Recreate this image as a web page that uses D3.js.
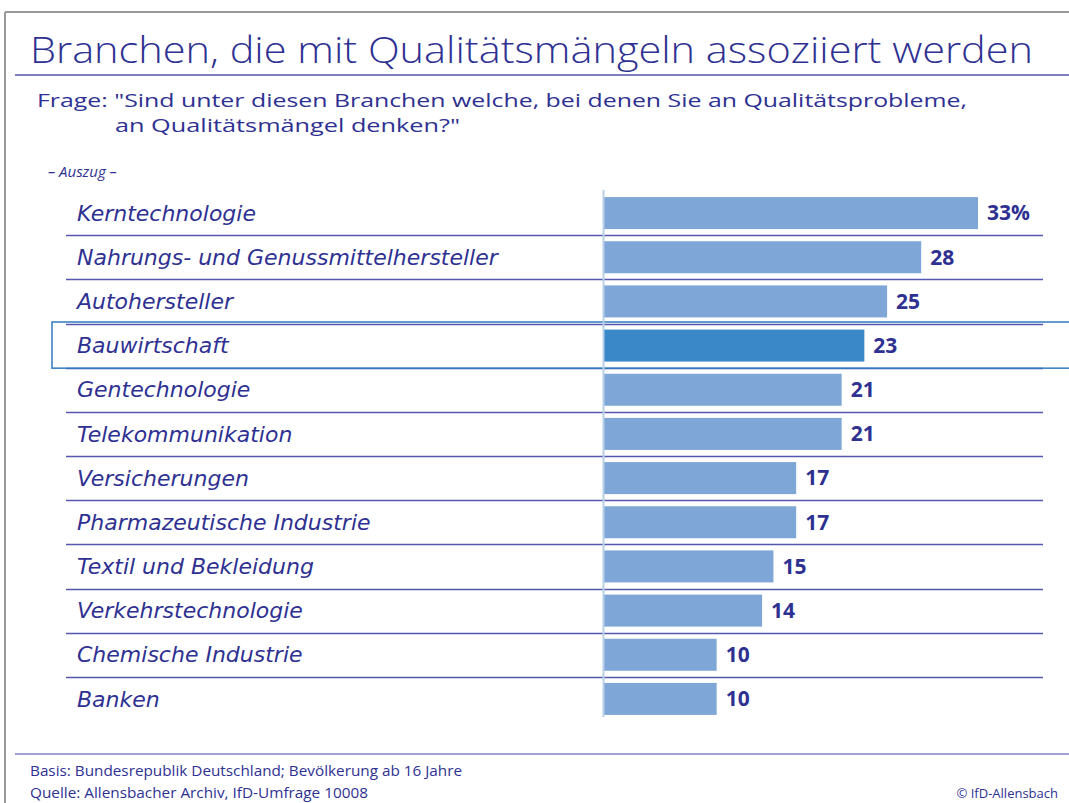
<!DOCTYPE html>
<html>
<head>
<meta charset="utf-8">
<script src="https://cdn.jsdelivr.net/npm/d3@7"></script>
<style>
  body { margin: 0; background: #fff; }
  text { font-family: "Open Sans", "DejaVu Sans", sans-serif; }
</style>
</head>
<body>
<script>
var width = 1069;
var height = 803;
var navy = "#2e3192";

var categories = [
  "Kerntechnologie",
  "Nahrungs- und Genussmittelhersteller",
  "Autohersteller",
  "Bauwirtschaft",
  "Gentechnologie",
  "Telekommunikation",
  "Versicherungen",
  "Pharmazeutische Industrie",
  "Textil und Bekleidung",
  "Verkehrstechnologie",
  "Chemische Industrie",
  "Banken"
];
var values = [33, 28, 25, 23, 21, 21, 17, 17, 15, 14, 10, 10];
var highlighted = "Bauwirtschaft";

var svg = d3.select("body")
            .append("svg")
            .attr("width", width)
            .attr("height", height);

// frame
svg.append("line").attr("x1", 5).attr("x2", width).attr("y1", 12).attr("y2", 12)
  .attr("stroke", "#999").attr("stroke-width", 2);
svg.append("line").attr("x1", 5).attr("x2", 5).attr("y1", 12).attr("y2", height)
  .attr("stroke", "#999").attr("stroke-width", 2);

// title
svg.append("text")
  .attr("x", 30).attr("y", 63)
  .attr("font-size", 37).attr("font-weight", 300)
  .attr("fill", navy)
  .attr("textLength", 1003).attr("lengthAdjust", "spacingAndGlyphs")
  .text("Branchen, die mit Qualitätsmängeln assoziiert werden");
svg.append("line").attr("x1", 15).attr("x2", width).attr("y1", 75).attr("y2", 75)
  .attr("stroke", "#7f7fc0").attr("stroke-width", 2);

svg.append("text")
  .attr("x", 37).attr("y", 107)
  .attr("font-size", 19).attr("fill", navy)
  .attr("textLength", 930).attr("lengthAdjust", "spacingAndGlyphs")
  .text("Frage: \"Sind unter diesen Branchen welche, bei denen Sie an Qualitätsprobleme,");
svg.append("text")
  .attr("x", 115).attr("y", 132)
  .attr("font-size", 19).attr("fill", navy)
  .attr("textLength", 345).attr("lengthAdjust", "spacingAndGlyphs")
  .text("an Qualitätsmängel denken?\"");

svg.append("text")
  .attr("x", 48).attr("y", 177)
  .attr("font-size", 15).attr("font-style", "italic").attr("fill", navy)
  .text("– Auszug –");

// scales
var y = d3.scaleBand().domain(categories).range([191, 721]).padding(0);
var x = d3.scaleLinear().domain([0, 33]).range([603, 978]);
var barH = 32;
var inset = (y.bandwidth() - barH) / 2;

// row separators
svg.selectAll(".sep")
  .data(categories.slice(1))
  .enter().append("line")
  .attr("class", "sep")
  .attr("x1", 66).attr("x2", 1043)
  .attr("y1", function(d) { return Math.round(y(d)) + 0.5; })
  .attr("y2", function(d) { return Math.round(y(d)) + 0.5; })
  .attr("stroke", "#5357b0").attr("stroke-width", 1.5);

// highlight box
svg.append("rect")
  .attr("x", 52).attr("y", y(highlighted) - 1.5)
  .attr("width", width)
  .attr("height", y.bandwidth() + 2)
  .attr("fill", "none")
  .attr("stroke", "#2f7bbf").attr("stroke-width", 1.5);

// bars
svg.selectAll(".bar")
  .data(categories)
  .enter().append("rect")
  .attr("class", "bar")
  .attr("x", x(0))
  .attr("y", function(d) { return y(d) + inset; })
  .attr("width", function(d, i) { return x(values[i]) - x(0); })
  .attr("height", barH)
  .attr("fill", function(d) { return d === highlighted ? "#3a88c8" : "#7ea7d8"; });

// axis line
svg.append("line").attr("x1", 603.5).attr("x2", 603.5).attr("y1", 190).attr("y2", 717)
  .attr("stroke", "#b8cfe8").attr("stroke-width", 2);

// category labels
svg.selectAll(".lab")
  .data(categories)
  .enter().append("text")
  .attr("class", "lab")
  .attr("x", 77)
  .attr("y", function(d) { return y(d) + y.bandwidth() / 2; })
  .attr("dy", "0.35em")
  .style("font-family", "'DejaVu Sans', sans-serif")
  .attr("font-size", 22).attr("font-style", "italic")
  .attr("fill", navy)
  .text(function(d) { return d; });

// value labels
svg.selectAll(".val")
  .data(categories)
  .enter().append("text")
  .attr("class", "val")
  .attr("x", function(d, i) { return x(values[i]) + 9; })
  .attr("y", function(d) { return y(d) + y.bandwidth() / 2; })
  .attr("dy", "0.35em")
  .attr("font-size", 21).attr("font-weight", "bold")
  .attr("fill", navy)
  .text(function(d, i) { return i === 0 ? values[i] + "%" : values[i]; });

// footer
svg.append("line").attr("x1", 15).attr("x2", width).attr("y1", 754).attr("y2", 754)
  .attr("stroke", "#7f7fc0").attr("stroke-width", 1.5);
svg.append("text").attr("x", 30).attr("y", 776)
  .attr("font-size", 14).attr("fill", navy)
  .attr("textLength", 432).attr("lengthAdjust", "spacingAndGlyphs")
  .text("Basis: Bundesrepublik Deutschland; Bevölkerung ab 16 Jahre");
svg.append("text").attr("x", 30).attr("y", 798)
  .attr("font-size", 14).attr("fill", navy)
  .attr("textLength", 338).attr("lengthAdjust", "spacingAndGlyphs")
  .text("Quelle: Allensbacher Archiv, IfD-Umfrage 10008");
svg.append("text").attr("x", 1058).attr("y", 798)
  .attr("font-size", 13).attr("fill", navy).attr("text-anchor", "end")
  .text("© IfD-Allensbach");
</script>
</body>
</html>
